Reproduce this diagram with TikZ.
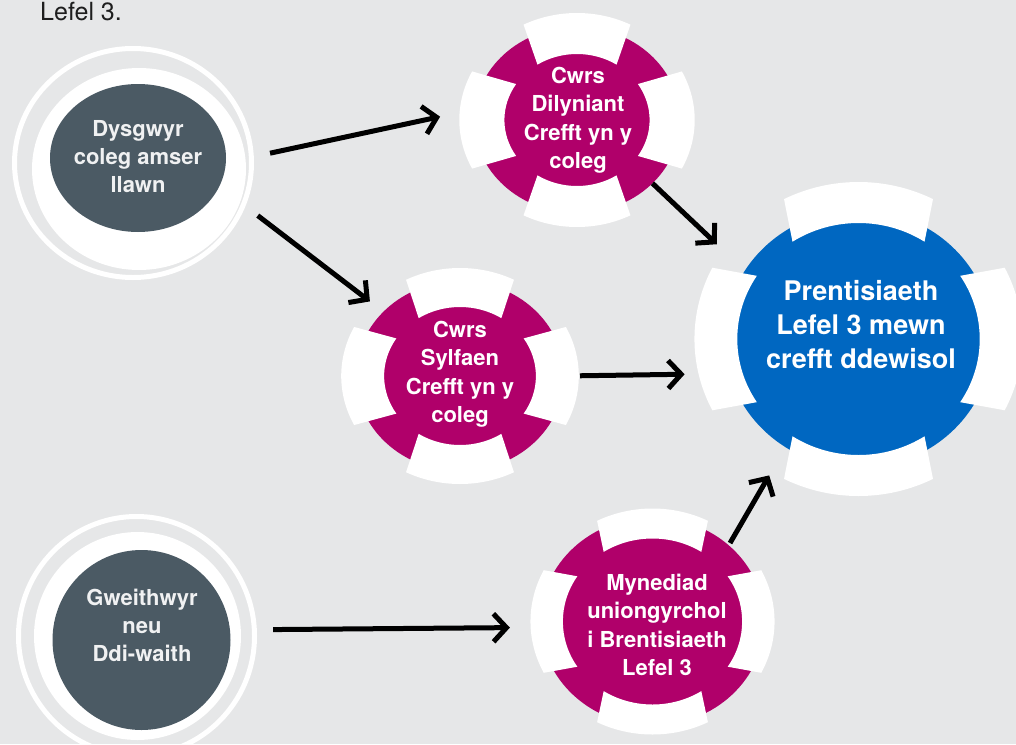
\documentclass[tikz,border=0pt]{standalone}
\usepackage{fontspec}
\setmainfont{TeX Gyre Heros}
\usetikzlibrary{arrows.meta,shapes.geometric}
\definecolor{bgc}{RGB}{230,231,232}
\definecolor{slate}{RGB}{75,90,100}
\definecolor{mag}{RGB}{176,0,106}
\definecolor{bluec}{RGB}{0,103,193}
\definecolor{lighttxt}{RGB}{240,241,242}
\definecolor{toptxt}{RGB}{30,30,30}
\newcommand\drawtabs[4]{%
  \begin{scope}[shift={#1}, xscale=#2]
    \foreach \a in {0,90,180,270}{
      \fill[white] (\a-27:#4) arc[start angle=\a-27, end angle=\a+27, radius=#4]
        -- (\a+33:#3) arc[start angle=\a+33, end angle=\a-33, radius=#3] -- cycle;
    }
  \end{scope}}
\begin{document}
\begin{tikzpicture}[x=1pt,y=1pt,
  ringnode/.style={ellipse, draw=white, line width=5pt, inner sep=0pt},
  discnode/.style={ellipse, fill=white, inner sep=0pt, outer sep=0pt},
  darknode/.style={ellipse, fill=slate, inner sep=0pt, outer sep=0pt},
  magnode/.style={ellipse, fill=mag, inner sep=0pt, outer sep=0pt},
  bluenode/.style={ellipse, fill=bluec, inner sep=0pt, outer sep=0pt},
  graytxt/.style={align=center, text=lighttxt, inner sep=0pt, font=\bfseries\fontsize{22}{28}\selectfont},
  magtxt/.style={align=center, text=white, inner sep=0pt, font=\bfseries\fontsize{22}{28.5}\selectfont},
  bluetxt/.style={align=center, text=white, inner sep=0pt, font=\bfseries\fontsize{27}{34}\selectfont},
  arr/.style={line width=5pt, draw=black, -{Straight Barb[length=13pt, width=28pt]}}
]
\useasboundingbox (0,0) rectangle (1016,-744);
\fill[bgc] (0,0) rectangle (1016,-744);

% top text
\node[anchor=base west, inner sep=0pt, text=toptxt, font=\fontsize{25}{30}\selectfont] (lefel) at (40,-20) {Lefel 3.};

% gray node A
\node[ringnode, minimum width=237pt, minimum height=229pt] (Aring) at (133,-163) {};
\node[discnode, minimum width=214pt, minimum height=202pt] (Adisc) at (139,-169) {};
\node[darknode, minimum width=176pt, minimum height=148pt] (Adark) at (138,-158) {};
\node[graytxt] (A) at (138,-157) {Dysgwyr\\coleg amser\\llawn};

% gray node B
\node[ringnode, minimum width=236pt, minimum height=239pt] (Bring) at (136.5,-636) {};
\node[discnode, minimum width=207pt, minimum height=208pt] (Bdisc) at (137.5,-636) {};
\node[darknode, minimum width=178pt, minimum height=180pt] (Bdark) at (141.5,-640) {};
\node[graytxt] (B) at (142,-625) {Gweithwyr\\neu\\Ddi-waith};

% magenta M1
\node[magnode, minimum width=206pt, minimum height=186pt] (M1) at (577,-120) {};
\drawtabs{(577,-120)}{1.1}{66}{107}
\node[magtxt] (M1t) at (578,-120) {Cwrs\\Dilyniant\\Crefft yn y\\coleg};

% magenta M2
\node[magnode, minimum width=208pt, minimum height=190pt] (M2) at (460,-376) {};
\drawtabs{(460,-376)}{1.1}{69}{108}
\node[magtxt] (M2t) at (460,-374) {Cwrs\\Sylfaen\\Crefft yn y\\coleg};

% magenta M3
\node[magnode, minimum width=224pt, minimum height=208pt] (M3) at (652.5,-621.5) {};
\drawtabs{(652.5,-621.5)}{1.08}{83}{113}
\node[magtxt] (M3t) at (657,-625) {Mynediad\\uniongyrchol\\i Brentisiaeth\\Lefel 3};

% blue
\node[bluenode, minimum width=268pt, minimum height=258pt] (Blue) at (858.5,-339) {};
\drawtabs{(858.5,-339)}{1.045}{116}{157}
\node[bluetxt] (Bluet) at (861,-325) {Prentisiaeth\\Lefel 3 mewn\\crefft ddewisol};

% arrows
\draw[arr, shorten <=16.6pt, shorten >=35.4pt] (Aring.3.1) -- (M1.174.25);
\draw[arr, shorten <=15.5pt, shorten >=17pt] (Aring.339.4) -- (M2.140.7);
\draw[arr, shorten >=38.5pt] (M1.320.3) -- (Blue.149);
\draw[arr, shorten <=16pt, shorten >=44.8pt] (M2.0.55) -- (Blue.195.6);
\draw[arr, shorten <=16.2pt, shorten >=30.8pt] (Bring.3.33) -- (M3.183.84);
\draw[arr, shorten <=2.6pt, shorten >=32.6pt] (M3.45) -- (Blue.236.6);
\end{tikzpicture}
\end{document}
